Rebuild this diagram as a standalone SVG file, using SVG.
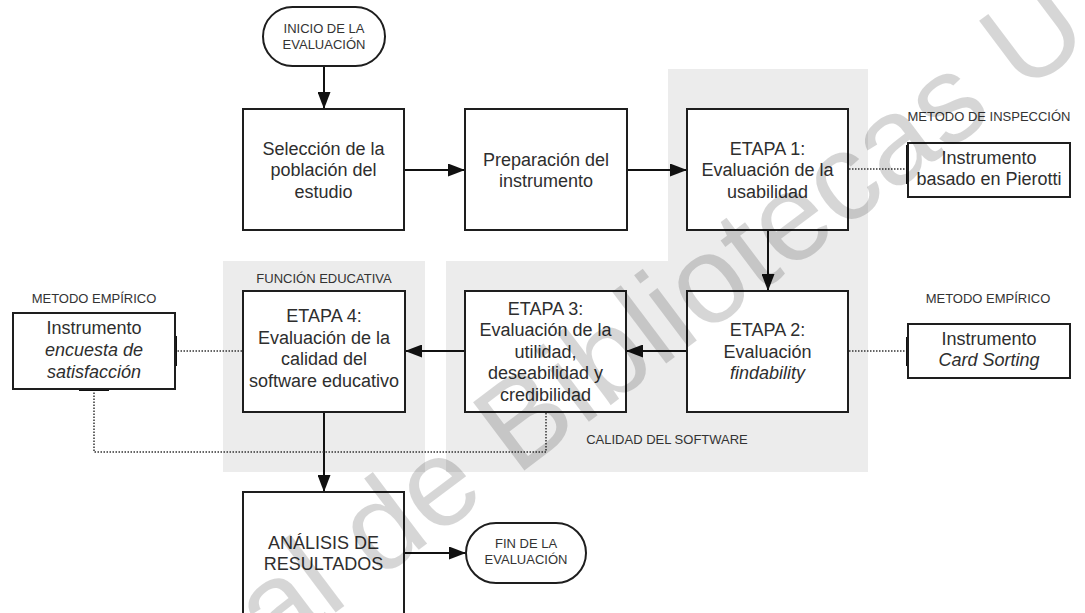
<svg xmlns="http://www.w3.org/2000/svg" width="1085" height="613" viewBox="0 0 1085 613">
<defs>
<style>
.band{fill:#ececec;}
.box{fill:#fff;stroke:#1e1e1e;stroke-width:2;}
.t{font-family:"Liberation Sans",Arial,sans-serif;font-size:18px;fill:#2e2e2e;text-anchor:middle;}
.s{font-family:"Liberation Sans",Arial,sans-serif;font-size:13px;fill:#333;text-anchor:middle;}
.i{font-style:italic;}
.arr{fill:none;stroke:#111;stroke-width:2;marker-end:url(#ah);}
.dot{fill:none;stroke:#333;stroke-width:1.5;stroke-dasharray:1.5 1.5;}
.tab{stroke:#111;stroke-width:4;}
.wm{font-family:"Liberation Sans",Arial,sans-serif;font-size:124px;fill:#000;fill-opacity:0.16;}
</style>
<marker id="ah" markerUnits="userSpaceOnUse" markerWidth="17" markerHeight="13" refX="17" refY="6.5" orient="auto">
<path d="M0,0 L17,6.5 L0,13 z" fill="#111"/>
</marker>
</defs>
<rect width="1085" height="613" fill="#fff"/>

<g id="band-calidad">
<path class="band" d="M668,69 H868 V472 H446 V261 H668 Z"/>
<text class="s" x="667" y="443.7">CALIDAD DEL SOFTWARE</text>
</g>
<g id="band-funcion">
<rect class="band" x="223" y="261" width="202" height="211"/>
<text class="s" x="324" y="282.7">FUNCIÓN EDUCATIVA</text>
</g>

<g id="connectors">
<line class="arr" x1="324" y1="66" x2="324" y2="109"/>
<line class="arr" x1="404" y1="170" x2="465" y2="170"/>
<line class="arr" x1="627" y1="170" x2="687" y2="170"/>
<line class="arr" x1="768" y1="230" x2="768" y2="291"/>
<line class="arr" x1="687" y1="351" x2="626" y2="351"/>
<line class="arr" x1="465" y1="351" x2="405" y2="351"/>
<line class="arr" x1="324" y1="412" x2="324" y2="492"/>
<line class="arr" x1="404" y1="553" x2="466" y2="553"/>
<line class="dot" x1="849" y1="169" x2="906" y2="169"/>
<line class="dot" x1="849" y1="351" x2="906" y2="351"/>
<line class="dot" x1="242" y1="351" x2="177" y2="351"/>
<polyline class="dot" points="546,413 546,452 94,452 94,391"/>
<line class="tab" x1="908" y1="145" x2="908" y2="184"/>
<line class="tab" x1="908" y1="337" x2="908" y2="366"/>
<line class="tab" x1="175" y1="336" x2="175" y2="366"/>
<line class="tab" x1="79" y1="389" x2="109" y2="389"/>
</g>

<g id="inicio">
<rect class="box" x="263" y="7" width="122" height="59" rx="29.5"/>
<text class="s" x="324" y="32.7">INICIO DE LA</text>
<text class="s" x="324" y="48.7">EVALUACIÓN</text>
</g>

<g id="seleccion">
<rect class="box" x="243" y="109" width="161" height="121"/>
<text class="t" x="323.5" y="154.5">Selección de la</text>
<text class="t" x="323.5" y="176">población del</text>
<text class="t" x="323.5" y="197.5">estudio</text>
</g>

<g id="preparacion">
<rect class="box" x="465" y="109" width="162" height="121"/>
<text class="t" x="546" y="165.5">Preparación del</text>
<text class="t" x="546" y="187">instrumento</text>
</g>

<g id="etapa1">
<rect class="box" x="687" y="109" width="161" height="121"/>
<text class="t" x="767.5" y="154.8">ETAPA 1:</text>
<text class="t" x="767.5" y="176.3">Evaluación de la</text>
<text class="t" x="767.5" y="197.8">usabilidad</text>
</g>

<g id="pierotti">
<text class="s" x="989" y="120.7">METODO DE INSPECCIÓN</text>
<rect class="box" x="908" y="143" width="162" height="54"/>
<text class="t" x="989" y="163.5">Instrumento</text>
<text class="t" x="989" y="185">basado en Pierotti</text>
</g>

<g id="etapa2">
<rect class="box" x="687" y="291" width="161" height="121"/>
<text class="t" x="767.5" y="336.3">ETAPA 2:</text>
<text class="t" x="767.5" y="357.8">Evaluación</text>
<text class="t i" x="767.5" y="379.3">findability</text>
</g>

<g id="cardsorting">
<text class="s" x="988" y="302.7">METODO EMPÍRICO</text>
<rect class="box" x="908" y="324" width="162" height="54"/>
<text class="t" x="989" y="344.5">Instrumento</text>
<text class="t i" x="989" y="365.5">Card Sorting</text>
</g>

<g id="etapa3">
<rect class="box" x="465" y="291" width="161" height="121"/>
<text class="t" x="545.5" y="314.8">ETAPA 3:</text>
<text class="t" x="545.5" y="336.3">Evaluación de la</text>
<text class="t" x="545.5" y="357.8">utilidad,</text>
<text class="t" x="545.5" y="379.3">deseabilidad y</text>
<text class="t" x="545.5" y="400.8">credibilidad</text>
</g>

<g id="etapa4">
<rect class="box" x="243" y="291" width="162" height="121"/>
<text class="t" x="324" y="322">ETAPA 4:</text>
<text class="t" x="324" y="343.5">Evaluación de la</text>
<text class="t" x="324" y="365">calidad del</text>
<text class="t" x="324" y="386.5">software educativo</text>
</g>

<g id="encuesta">
<text class="s" x="94" y="302.7">METODO EMPÍRICO</text>
<rect class="box" x="13" y="313" width="162" height="76"/>
<text class="t" x="94" y="333.5">Instrumento</text>
<text class="t i" x="94" y="355.5">encuesta de</text>
<text class="t i" x="94" y="378">satisfacción</text>
</g>

<g id="analisis">
<rect class="box" x="243" y="492" width="161" height="124"/>
<text class="t" x="323.5" y="548.5">ANÁLISIS DE</text>
<text class="t" x="323.5" y="570">RESULTADOS</text>
</g>

<g id="fin">
<rect class="box" x="466" y="523" width="120" height="60" rx="30"/>
<text class="s" x="526" y="547.7">FIN DE LA</text>
<text class="s" x="526" y="564.2">EVALUACIÓN</text>
</g>

<g id="watermark">
<text class="wm" transform="translate(274,659) rotate(-37)">al de Bibliotecas U</text>
</g>
</svg>
